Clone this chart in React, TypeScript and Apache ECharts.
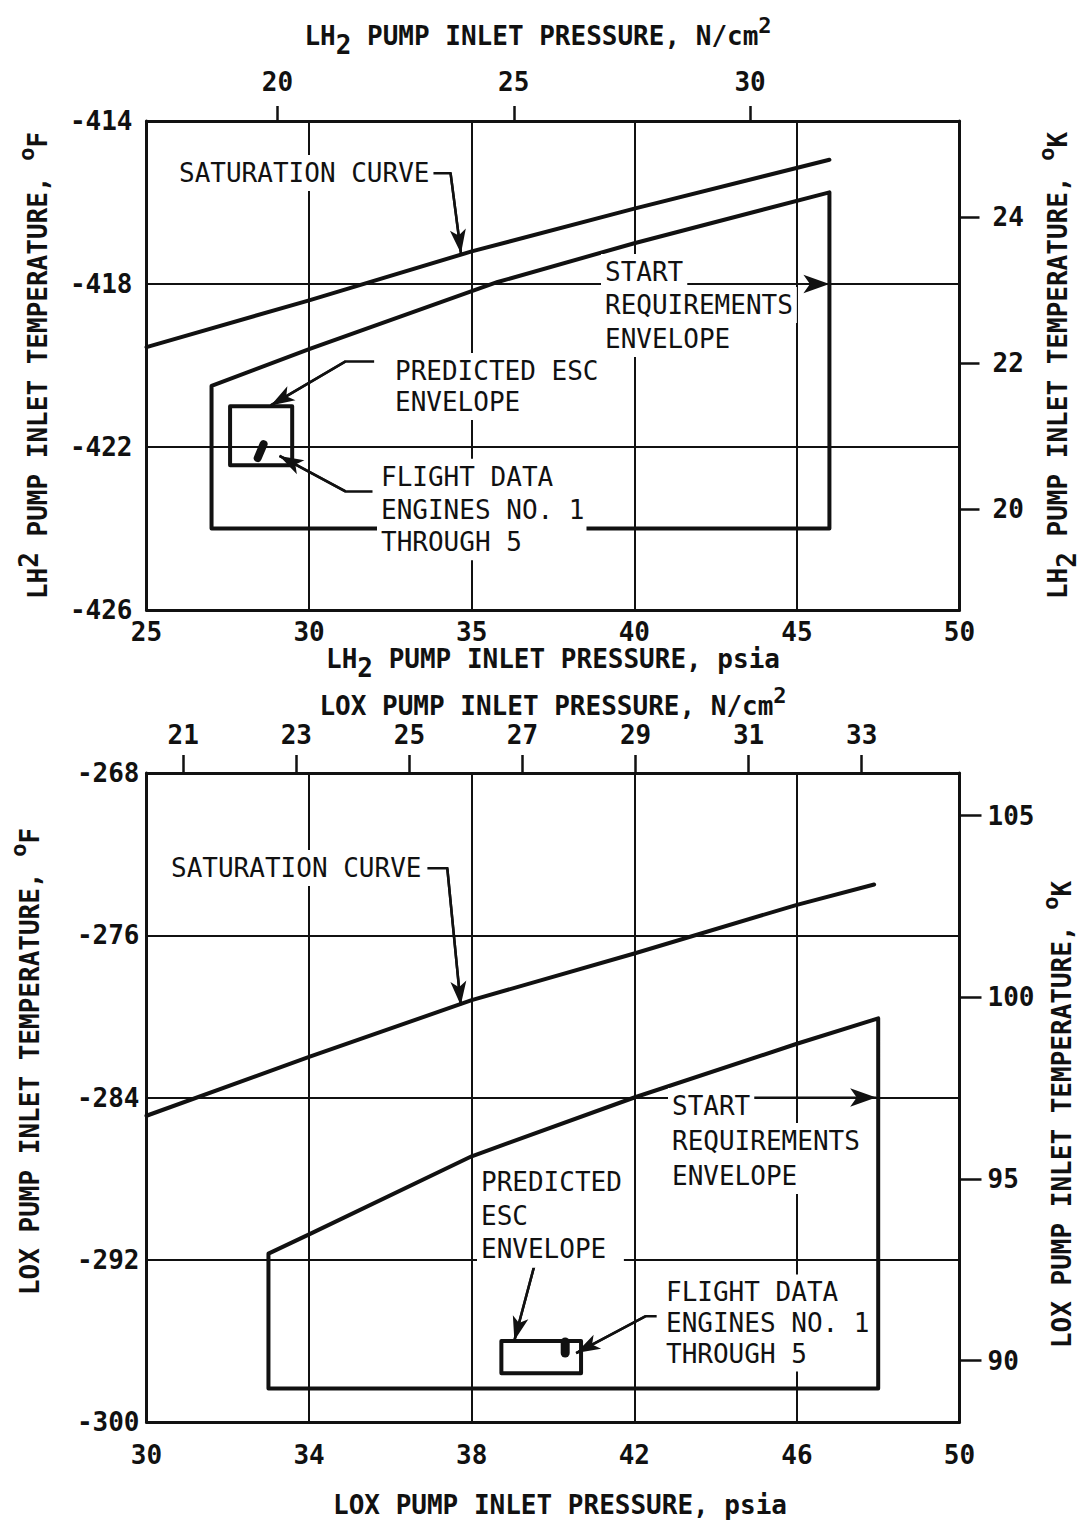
import React, { useEffect, useRef } from 'react';
import * as echarts from 'echarts';

// ---------- LH2 panel: pressure (psia) vs. temperature (deg F) ----------
const lh2SatPsia = [25, 30, 35, 40, 46];
const lh2SatTempF = [-419.55, -418.4, -417.2, -416.15, -414.95];

const lh2EnvPsia = [27, 27, 30, 35.8, 40, 46, 46, 27];
const lh2EnvTempF = [-424, -420.5, -419.6, -417.95, -417.0, -415.75, -424, -424];

const lh2EscPsia = [27.57, 27.57, 29.48, 29.48, 27.57];
const lh2EscTempF = [-421.0, -422.45, -422.45, -421.0, -421.0];

const lh2FlightPsia = [28.6, 28.42];
const lh2FlightTempF = [-421.93, -422.27];

// ---------- LOX panel ----------
const loxSatPsia = [30, 34, 38, 42, 46, 47.9];
const loxSatTempF = [-284.9, -282.0, -279.2, -276.9, -274.5, -273.5];

const loxEnvPsia = [33, 33, 34, 38, 42, 46, 48, 48, 33];
const loxEnvTempF = [-298.35, -291.7, -290.75, -286.9, -284.0, -281.35, -280.1, -298.35, -298.35];

const loxEscPsia = [38.73, 38.73, 40.69, 40.69, 38.73];
const loxEscTempF = [-296.0, -297.6, -297.6, -296.0, -296.0];

const loxFlightPsia = [40.3, 40.3];
const loxFlightTempF = [-296.05, -296.6];

// ---------- secondary-scale tick labels ----------
const lh2NcmTicks = [20, 25, 30];
const lh2KelvinTicks = [20, 22, 24];
const loxNcmTicks = [21, 23, 25, 27, 29, 31, 33];
const loxKelvinTicks = [90, 95, 100, 105];

// ---------- callout leaders (psia, deg F), last point is the arrow tip ----------
const lh2SatLeader = [[33.7, -415.28], [34.35, -415.28], [34.67, -417.25]];
const lh2EscLeader = [[32.0, -419.9], [31.12, -419.9], [28.82, -420.98]];
const lh2FlightLeader = [[31.95, -423.09], [31.12, -423.09], [29.09, -422.22]];
const lh2StartLeader = [[41.8, -418], [46, -418]];

const loxSatLeader = [[36.91, -272.7], [37.4, -272.7], [37.73, -279.45]];
const loxEscLeader = [[39.54, -292.3], [39.05, -295.98]];
const loxFlightLeader = [[42.55, -294.78], [42.28, -294.78], [40.57, -296.6]];
const loxStartLeader = [[44.7, -284], [47.95, -284]];

const INK = '#111';
const FONT = "'DejaVu Sans Mono', 'Liberation Mono', monospace";

const zip = (xs: number[], ys: number[]) => xs.map((x, i) => [x, ys[i]]);

const richStyles = {
  t: { fontFamily: FONT, fontSize: 26, fontWeight: 'bold', color: INK, lineHeight: 44 },
  sub: { fontFamily: FONT, fontSize: 26, fontWeight: 'bold', color: INK, lineHeight: 44, verticalAlign: 'bottom' },
  hi: { fontFamily: FONT, fontSize: 26, fontWeight: 'bold', color: INK, lineHeight: 44, verticalAlign: 'top' },
  sup: { fontFamily: FONT, fontSize: 22, fontWeight: 'bold', color: INK, lineHeight: 44, verticalAlign: 'top' },
};

const tickLabel = (margin: number, extra: any = {}) => ({
  margin,
  fontFamily: FONT,
  fontSize: 26,
  fontWeight: 'bold',
  color: INK,
  ...extra,
});

const frame = { show: true, onZero: false, lineStyle: { color: INK, width: 3 } };
const grid = { show: true, lineStyle: { color: INK, width: 2 } };

function nameStyle(padding: number[] = [0, 0, 0, 0]) {
  return { rich: richStyles, padding };
}

function curve(name: string, xs: number[], ys: number[], panel: number, width: number) {
  const idx = panel * 2;
  return {
    type: 'line',
    name,
    xAxisIndex: idx,
    yAxisIndex: idx,
    data: zip(xs, ys),
    symbol: 'none',
    showSymbol: false,
    silent: true,
    z: 3,
    lineStyle: { color: INK, width, cap: 'round', join: 'round' },
  };
}

function leader(name: string, pts: number[][], panel: number, width: number, arrow: number[]) {
  const idx = panel * 2;
  const n = pts.length;
  return {
    type: 'line',
    name,
    xAxisIndex: idx,
    yAxisIndex: idx,
    data: pts,
    symbol: 'none',
    showSymbol: false,
    silent: true,
    z: 4,
    lineStyle: { color: INK, width, join: 'miter' },
    markLine: {
      silent: true,
      symbol: ['none', 'arrow'],
      symbolSize: arrow,
      label: { show: false },
      emphasis: { disabled: true },
      lineStyle: { color: INK, width, type: 'solid' },
      data: [[{ coord: pts[n - 2] }, { coord: pts[n - 1] }]],
    },
  };
}

// One text element per line, each masking the rules behind it.
function notes(lines: string[], x: number, ys: number[]) {
  return lines.map((text, i) => ({
    type: 'text',
    x,
    y: ys[i],
    z: 100,
    silent: true,
    style: {
      text,
      fill: INK,
      font: `26px ${FONT}`,
      align: 'left',
      verticalAlign: 'middle',
      backgroundColor: '#fff',
      padding: [5, 4, 5, 4],
    },
  }));
}

// A multi-line note masked as one block.
function noteBlock(lines: string[], x: number, yFirst: number, dy: number) {
  return {
    type: 'text',
    x,
    y: yFirst - dy / 2,
    z: 100,
    silent: true,
    style: {
      text: lines.join('\n'),
      fill: INK,
      font: `26px ${FONT}`,
      lineHeight: dy,
      align: 'left',
      verticalAlign: 'top',
      backgroundColor: '#fff',
      padding: [2, 2, 2, 4],
    },
  };
}

function buildOption() {
  return {
    animation: false,
    backgroundColor: '#fff',
    grid: [
      { left: 146.5, top: 121, width: 813, height: 489, outerBoundsMode: 'none', containLabel: false },
      { left: 146.5, top: 773, width: 813, height: 649, outerBoundsMode: 'none', containLabel: false },
    ],
    xAxis: [
      {
        gridIndex: 0,
        type: 'value',
        position: 'bottom',
        min: 25,
        max: 50,
        interval: 5,
        axisLine: frame,
        axisTick: { show: false },
        splitLine: grid,
        axisLabel: tickLabel(9),
        name: '{t|LH}{sub|2}{t| PUMP INLET PRESSURE, psia}',
        nameLocation: 'middle',
        nameGap: 27,
        nameMoveOverlap: false,
        nameTextStyle: nameStyle(),
      },
      {
        gridIndex: 0,
        type: 'value',
        position: 'top',
        min: 17.23,
        max: 34.43,
        axisLine: frame,
        axisTick: { show: true, inside: false, length: 15, customValues: lh2NcmTicks, lineStyle: { color: INK, width: 2.5 } },
        splitLine: { show: false },
        axisLabel: tickLabel(26, { customValues: lh2NcmTicks }),
        name: '{t|LH}{sub|2}{t| PUMP INLET PRESSURE, N/cm}{sup|2}',
        nameLocation: 'middle',
        nameGap: 63,
        nameMoveOverlap: false,
        nameTextStyle: nameStyle([0, 30, 0, 0]),
      },
      {
        gridIndex: 1,
        type: 'value',
        position: 'bottom',
        min: 30,
        max: 50,
        interval: 4,
        axisLine: frame,
        axisTick: { show: false },
        splitLine: grid,
        axisLabel: tickLabel(20),
        name: '{t|LOX PUMP INLET PRESSURE, psia}',
        nameLocation: 'middle',
        nameGap: 61,
        nameMoveOverlap: false,
        nameTextStyle: nameStyle([0, 0, 0, 14]),
      },
      {
        gridIndex: 1,
        type: 'value',
        position: 'top',
        min: 20.35,
        max: 34.73,
        axisLine: frame,
        axisTick: { show: true, inside: false, length: 18, customValues: loxNcmTicks, lineStyle: { color: INK, width: 2.5 } },
        splitLine: { show: false },
        axisLabel: tickLabel(25, { customValues: loxNcmTicks }),
        name: '{t|LOX PUMP INLET PRESSURE, N/cm}{sup|2}',
        nameLocation: 'middle',
        nameGap: 45,
        nameMoveOverlap: false,
        nameTextStyle: nameStyle(),
      },
    ],
    yAxis: [
      {
        gridIndex: 0,
        type: 'value',
        position: 'left',
        min: -426,
        max: -414,
        interval: 4,
        axisLine: frame,
        axisTick: { show: false },
        splitLine: grid,
        axisLabel: tickLabel(14),
        name: '{t|LH}{hi|2}{t| PUMP INLET TEMPERATURE, }{sup|o}{t|F}',
        nameLocation: 'middle',
        nameGap: 87,
        nameMoveOverlap: false,
        nameTextStyle: nameStyle(),
      },
      {
        gridIndex: 0,
        type: 'value',
        position: 'right',
        min: 18.62,
        max: 25.32,
        axisLine: frame,
        axisTick: { show: true, inside: false, length: 20, customValues: lh2KelvinTicks, lineStyle: { color: INK, width: 2.5 } },
        splitLine: { show: false },
        axisLabel: tickLabel(33, { customValues: lh2KelvinTicks }),
        name: '{t|LH}{sub|2}{t| PUMP INLET TEMPERATURE, }{sup|o}{t|K}',
        nameLocation: 'middle',
        nameGap: 76,
        nameMoveOverlap: false,
        nameTextStyle: nameStyle(),
      },
      {
        gridIndex: 1,
        type: 'value',
        position: 'left',
        min: -300,
        max: -268,
        interval: 8,
        axisLine: frame,
        axisTick: { show: false },
        splitLine: grid,
        axisLabel: tickLabel(7),
        name: '{t|LOX PUMP INLET TEMPERATURE, }{sup|o}{t|F}',
        nameLocation: 'middle',
        nameGap: 95,
        nameMoveOverlap: false,
        nameTextStyle: nameStyle([0, 0, 0, 72]),
      },
      {
        gridIndex: 1,
        type: 'value',
        position: 'right',
        min: 88.31,
        max: 106.17,
        axisLine: frame,
        axisTick: { show: true, inside: false, length: 22, customValues: loxKelvinTicks, lineStyle: { color: INK, width: 2.5 } },
        splitLine: { show: false },
        axisLabel: tickLabel(28, { customValues: loxKelvinTicks }),
        name: '{t|LOX PUMP INLET TEMPERATURE, }{sup|o}{t|K}',
        nameLocation: 'middle',
        nameGap: 80,
        nameMoveOverlap: false,
        nameTextStyle: nameStyle([0, 34, 0, 0]),
      },
    ],
    series: [
      curve('LH2 saturation curve', lh2SatPsia, lh2SatTempF, 0, 4),
      curve('LH2 start requirements envelope', lh2EnvPsia, lh2EnvTempF, 0, 4),
      curve('LH2 predicted ESC envelope', lh2EscPsia, lh2EscTempF, 0, 4),
      curve('LH2 flight data', lh2FlightPsia, lh2FlightTempF, 0, 8),
      leader('LH2 saturation callout', lh2SatLeader, 0, 2.5, [12, 24]),
      leader('LH2 ESC callout', lh2EscLeader, 0, 2.5, [12, 24]),
      leader('LH2 flight callout', lh2FlightLeader, 0, 2.5, [12, 24]),
      leader('LH2 start callout', lh2StartLeader, 0, 2, [14, 26]),

      curve('LOX saturation curve', loxSatPsia, loxSatTempF, 1, 4),
      curve('LOX start requirements envelope', loxEnvPsia, loxEnvTempF, 1, 4),
      curve('LOX predicted ESC envelope', loxEscPsia, loxEscTempF, 1, 4),
      curve('LOX flight data', loxFlightPsia, loxFlightTempF, 1, 9),
      leader('LOX saturation callout', loxSatLeader, 1, 2.5, [12, 24]),
      leader('LOX ESC callout', loxEscLeader, 1, 2.5, [12, 24]),
      leader('LOX flight callout', loxFlightLeader, 1, 2.5, [12, 24]),
      leader('LOX start callout', loxStartLeader, 1, 2, [14, 26]),
    ],
    graphic: [
      // LH2 panel notes
      ...notes(['SATURATION CURVE'], 175, [173]),
      ...notes(['START', 'REQUIREMENTS', 'ENVELOPE'], 601, [272, 305, 339]),
      ...notes(['PREDICTED ESC', 'ENVELOPE'], 391, [371, 402]),
      noteBlock(['FLIGHT DATA', 'ENGINES NO. 1', 'THROUGH 5'], 377, 475, 32.5),
      // LOX panel notes
      ...notes(['SATURATION CURVE'], 167, [868]),
      ...notes(['START', 'REQUIREMENTS', 'ENVELOPE'], 668, [1106, 1141, 1176]),
      noteBlock(['PREDICTED', 'ESC', 'ENVELOPE'], 477, 1180, 33.5),
      noteBlock(['FLIGHT DATA', 'ENGINES NO. 1', 'THROUGH 5'], 662, 1290, 31),
    ],
  };
}

export default function App() {
  const ref = useRef<HTMLDivElement>(null);
  useEffect(() => {
    if (!ref.current) return;
    const chart = echarts.init(ref.current, null, { renderer: 'svg' });
    chart.setOption(buildOption() as any);
    return () => chart.dispose();
  }, []);
  return (
    <div
      ref={ref}
      style={{ position: 'absolute', left: 0, top: 0, width: 1090, height: 1524, background: '#fff' }}
    />
  );
}
